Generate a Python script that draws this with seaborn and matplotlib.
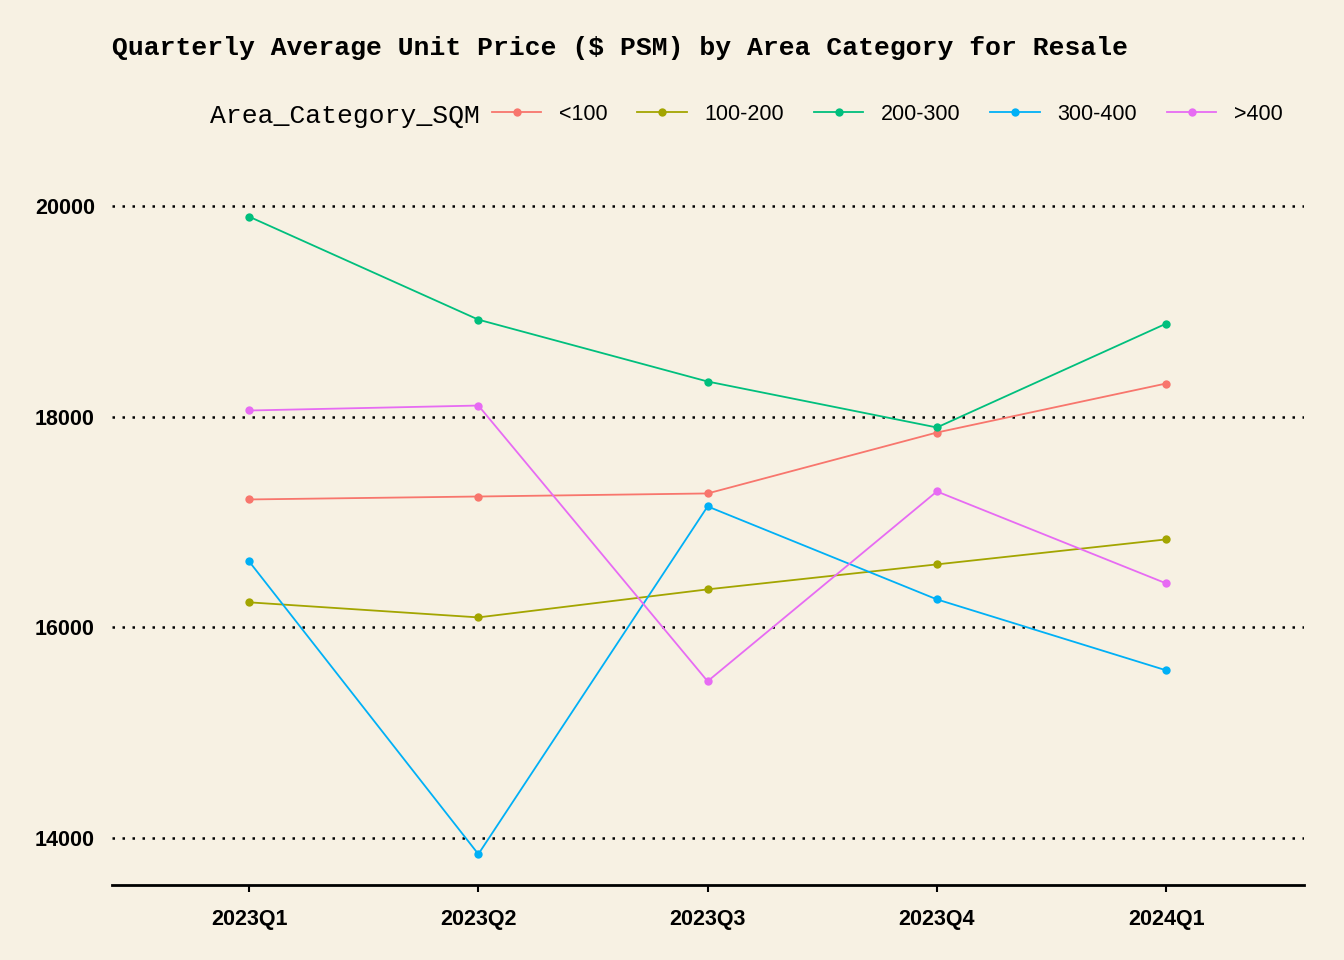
import matplotlib
matplotlib.use('Agg')
import matplotlib.pyplot as plt
import seaborn as sns
import pandas as pd

quarters = ['2023Q1', '2023Q2', '2023Q3', '2023Q4', '2024Q1']
categories = ['<100', '100-200', '200-300', '300-400', '>400']
lt100 = [17213, 17241, 17270, 17848, 18313]
c100_200 = [16237, 16094, 16360, 16597, 16834]
c200_300 = [19896, 18919, 18332, 17896, 18881]
c300_400 = [16625, 13848, 17147, 16265, 15592]
gt400 = [18057, 18104, 15488, 17289, 16417]
colors = ['#F8766D', '#A3A500', '#00BF7D', '#00B0F6', '#E76BF3']

rows = []
for cat, vals in zip(categories, [lt100, c100_200, c200_300, c300_400, gt400]):
    for q, v in zip(quarters, vals):
        rows.append({'Quarter': q, 'Area_Category_SQM': cat, 'Price': v})
df = pd.DataFrame(rows)

bg = '#F7F1E3'
fig, ax = plt.subplots(figsize=(13.44, 9.6), dpi=100)
fig.patch.set_facecolor(bg)
ax.set_facecolor(bg)
fig.subplots_adjust(left=0.083, right=0.97, top=0.80, bottom=0.078)

sns.lineplot(data=df, x='Quarter', y='Price', hue='Area_Category_SQM',
             hue_order=categories, palette=colors, marker='o', markersize=6,
             markeredgewidth=0, linewidth=1.3, ax=ax, sort=False)

ax.set_xlim(-0.6, 4.6)
ax.set_ylim(13554, 20130)
ax.set_yticks([14000, 16000, 18000, 20000])
ax.yaxis.grid(True, linestyle=(0, (1, 3)), color='black', linewidth=1.8)
ax.set_axisbelow(True)
for s in ['top', 'right', 'left']:
    ax.spines[s].set_visible(False)
ax.spines['bottom'].set_linewidth(2)
ax.tick_params(axis='y', length=0, pad=12)
ax.tick_params(axis='x', length=5, width=1.5, pad=12)
for lab in ax.get_xticklabels() + ax.get_yticklabels():
    lab.set_fontfamily('Liberation Sans')
    lab.set_fontweight('bold')
    lab.set_fontsize(15.5)
ax.set_xlabel('')
ax.set_ylabel('')

fig.text(0.083, 0.95, 'Quarterly Average Unit Price ($ PSM) by Area Category for Resale',
         fontfamily='Liberation Mono', fontweight='bold', fontsize=19, va='center')

handles, labels = ax.get_legend_handles_labels()
ax.get_legend().remove()
fig.text(0.156, 0.879, 'Area_Category_SQM', fontfamily='Liberation Mono',
         fontsize=19, va='center')
fig.legend(handles, labels, loc='center left', bbox_to_anchor=(0.366, 0.881), ncol=5,
           frameon=False, handlelength=2.3, handletextpad=0.8, columnspacing=1.4,
           borderaxespad=0, borderpad=0,
           prop={'family': 'Liberation Sans', 'size': 15.5})

fig.savefig('out.png', dpi=100, facecolor=bg)
